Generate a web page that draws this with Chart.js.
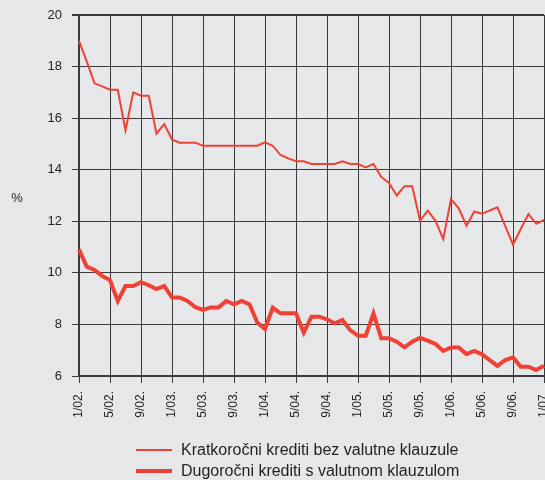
<!DOCTYPE html>
<html>
<head>
<meta charset="utf-8">
<script src="https://cdn.jsdelivr.net/npm/chart.js@4/dist/chart.umd.min.js"></script>
<style>
html,body{margin:0;padding:0;background:#e6e7e8;overflow:hidden;}
#wrap{width:545px;height:480px;position:relative;}
</style>
</head>
<body>
<div id="wrap"><canvas id="c" width="545" height="480"></canvas></div>
<script>
const categories = [
 "1/02.","2/02.","3/02.","4/02.","5/02.","6/02.","7/02.","8/02.","9/02.","10/02.","11/02.","12/02.",
 "1/03.","2/03.","3/03.","4/03.","5/03.","6/03.","7/03.","8/03.","9/03.","10/03.","11/03.","12/03.",
 "1/04.","2/04.","3/04.","4/04.","5/04.","6/04.","7/04.","8/04.","9/04.","10/04.","11/04.","12/04.",
 "1/05.","2/05.","3/05.","4/05.","5/05.","6/05.","7/05.","8/05.","9/05.","10/05.","11/05.","12/05.",
 "1/06.","2/06.","3/06.","4/06.","5/06.","6/06.","7/06.","8/06.","9/06.","10/06.","11/06.","12/06.",
 "1/07."
];
const tickLabels = ["1/02.","5/02.","9/02.","1/03.","5/03.","9/03.","1/04.","5/04.","9/04.","1/05.","5/05.","9/05.","1/06.","5/06.","9/06.","1/07."];
const shortTermLabel = "Kratkoročni krediti bez valutne klauzule";
const longTermLabel = "Dugoročni krediti s valutnom klauzulom";
const shortTerm = [
 19.0,18.2,17.35,17.23,17.1,17.1,15.53,17.0,16.87,16.87,15.4,15.77,
 15.17,15.05,15.05,15.05,14.93,14.93,14.93,14.93,14.93,14.93,14.93,14.93,
 15.06,14.93,14.57,14.44,14.33,14.33,14.22,14.22,14.22,14.22,14.33,14.22,
 14.22,14.09,14.22,13.72,13.49,13.0,13.36,13.36,12.02,12.41,12.02,11.31,
 12.86,12.5,11.83,12.38,12.29,12.42,12.54,11.81,11.1,11.7,12.28,11.9,
 12.05
];
const longTerm = [
 10.91,10.24,10.11,9.88,9.72,8.91,9.49,9.49,9.64,9.52,9.37,9.49,
 9.04,9.04,8.91,8.67,8.56,8.66,8.66,8.91,8.78,8.91,8.78,8.07,
 7.82,8.65,8.43,8.43,8.43,7.68,8.3,8.3,8.2,8.04,8.17,7.78,
 7.56,7.56,8.43,7.46,7.46,7.33,7.11,7.33,7.48,7.37,7.24,6.97,
 7.11,7.11,6.85,6.97,6.84,6.62,6.39,6.62,6.72,6.36,6.36,6.23,
 6.4
];
const yTicks = [6,8,10,12,14,16,18,20];

const FONT = 'Arial, "Liberation Sans", Helvetica, sans-serif';
const RED = '#ef4136';
const GRID = '#3a3a3a';
const TEXT = '#231f20';

const extras = {
  id: 'extras',
  afterDraw(chart) {
    const ctx = chart.ctx;
    ctx.save();
    ctx.fillStyle = TEXT;
    ctx.font = '13px ' + FONT;
    ctx.textAlign = 'center';
    ctx.textBaseline = 'middle';
    ctx.fillText('%', 17, 198);
    const items = chart.data.datasets;
    const rows = [450, 471];
    ctx.font = '16px ' + FONT;
    ctx.textAlign = 'left';
    items.forEach((ds, i) => {
      const y = rows[i];
      ctx.strokeStyle = ds.borderColor;
      ctx.lineWidth = ds.borderWidth;
      ctx.beginPath();
      ctx.moveTo(136, y);
      ctx.lineTo(172, y);
      ctx.stroke();
      ctx.fillStyle = TEXT;
      ctx.fillText(ds.label, 181, y + 1);
    });
    ctx.restore();
  }
};

new Chart(document.getElementById('c'), {
  type: 'line',
  data: {
    labels: categories,
    datasets: [
      { label: shortTermLabel, data: shortTerm, borderColor: RED, borderWidth: 2, pointRadius: 0, tension: 0, fill: false },
      { label: longTermLabel, data: longTerm, borderColor: RED, borderWidth: 4, pointRadius: 0, tension: 0, fill: false }
    ]
  },
  options: {
    responsive: false,
    animation: false,
    devicePixelRatio: 1,
    layout: { padding: { top: 15, right: 1, left: 0, bottom: 50 } },
    plugins: { legend: { display: false }, tooltip: { enabled: false } },
    scales: {
      x: {
        type: 'category',
        offset: false,
        afterFit(s) { s.height = 54; s.paddingLeft = 0; s.paddingRight = 0; },
        grid: { color: GRID, lineWidth: 1, tickLength: 7, drawOnChartArea: true },
        border: { color: GRID, width: 2 },
        ticks: {
          autoSkip: false, maxRotation: 90, minRotation: 90, padding: 8,
          color: TEXT, font: { family: FONT, size: 12 },
          callback(v) { const l = categories[v]; return tickLabels.includes(l) ? l : null; }
        }
      },
      y: {
        min: 6, max: 20,
        afterFit(s) { s.width = 79; s.paddingTop = 0; s.paddingBottom = 0; },
        afterBuildTicks(s) { s.ticks = yTicks.map(v => ({ value: v })); },
        grid: { color: GRID, lineWidth: (c) => (c.tick && c.tick.value === 20 ? 2 : 1), tickLength: 7 },
        border: { color: GRID, width: 2 },
        ticks: { stepSize: 2, padding: 10, color: TEXT, font: { family: FONT, size: 13 } }
      }
    }
  },
  plugins: [extras]
});
</script>
</body>
</html>
